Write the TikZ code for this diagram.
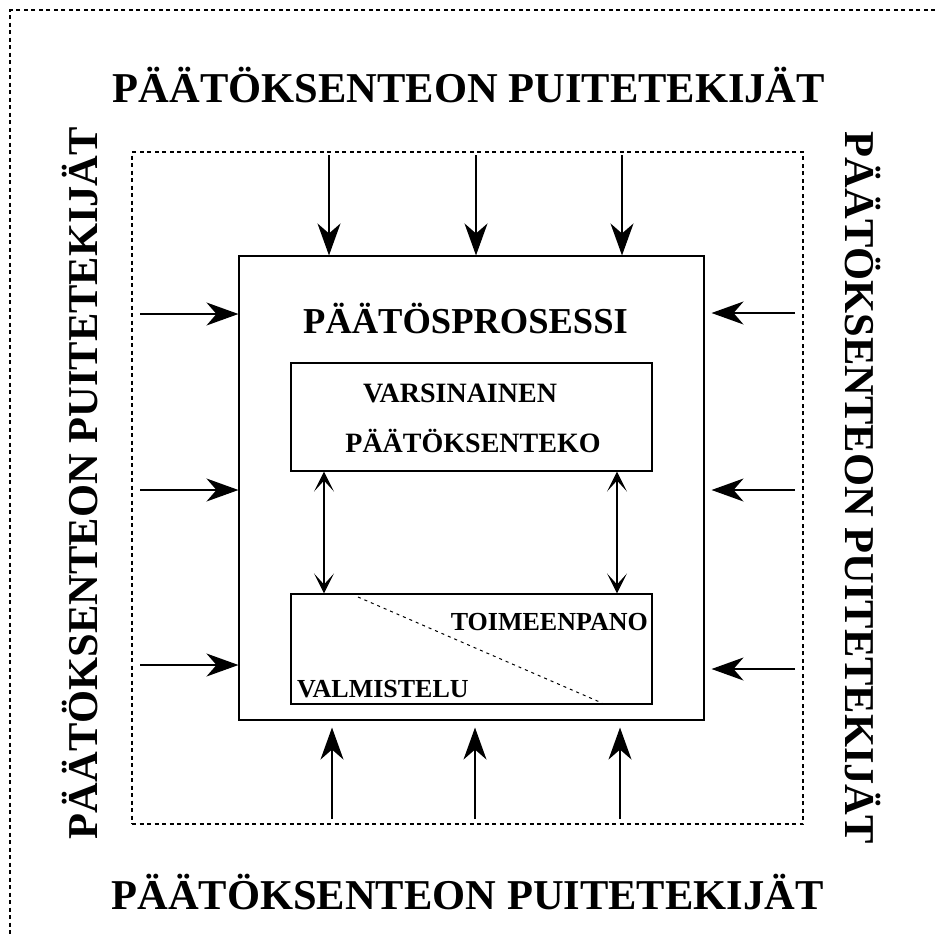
\documentclass[tikz,border=0pt]{standalone}
\usepackage{fontspec}
\setmainfont{Liberation Serif}
\usetikzlibrary{arrows.meta}
\begin{document}
\begin{tikzpicture}[x=1pt,y=-1pt,
  dotframe/.style={draw,line width=1.1pt,dash pattern=on 4pt off 3.5pt},
  procbox/.style={draw,line width=1.1pt,inner sep=0pt},
  bigarrow/.style={line width=1.4pt,-{Stealth[length=32pt,width=23pt,inset=10pt]}},
  smallarrow/.style={line width=1.1pt,{Stealth[length=20pt,width=20pt,inset=11pt]}-{Stealth[length=20pt,width=20pt,inset=11pt]}},
  bigtext/.style={font=\bfseries\fontsize{42.5}{50}\selectfont,inner sep=0pt,anchor=base},
  midtext/.style={font=\bfseries\fontsize{36.5}{44}\selectfont,inner sep=0pt,anchor=base},
  boxtext/.style={font=\bfseries\fontsize{28}{34}\selectfont,inner sep=0pt,anchor=base},
  subtext/.style={font=\bfseries\fontsize{26}{32}\selectfont,inner sep=0pt}]
\useasboundingbox (0,0) rectangle (935,937);

% outer dotted border (top and left edges)
\coordinate (otl) at (10,10);
\coordinate (otr) at (935,10);
\coordinate (obl) at (10,937);
\draw[dotframe] (otr) -- (otl) -- (obl);

% inner dotted frame
\node[dotframe,minimum width=671pt,minimum height=672pt,inner sep=0pt] (frame) at (467.5,488) {};

% decision process box and its two parts
\node[procbox,minimum width=465pt,minimum height=464pt] (main) at (471.5,488) {};
\node[procbox,minimum width=361pt,minimum height=108pt] (dec) at (471.5,417) {};
\node[procbox,minimum width=361pt,minimum height=110pt] (prep) at (471.5,649) {};

% diagonal split of the lower box
\coordinate (dgA) at (358,597);
\coordinate (dgB) at (602,703);
\draw[line width=1pt,dash pattern=on 3pt off 4pt] (dgA) -- (dgB);

% texts
\node[bigtext] (ttop) at (469,102) {PÄÄTÖKSENTEON PUITETEKIJÄT};
\node[bigtext] (tbot) at (467.5,909) {PÄÄTÖKSENTEON PUITETEKIJÄT};
\node[bigtext,rotate=90] (tleft) at (97,483) {PÄÄTÖKSENTEON PUITETEKIJÄT};
\node[bigtext,rotate=-90] (tright) at (845,488) {PÄÄTÖKSENTEON PUITETEKIJÄT};
\node[midtext] (tproc) at (465.5,333) {PÄÄTÖSPROSESSI};
\node[boxtext] (tdec1) at (460,402) {VARSINAINEN};
\node[boxtext] (tdec2) at (473,452) {PÄÄTÖKSENTEKO};
\node[subtext,anchor=base east] (timpl) at (648,630) {TOIMEENPANO};
\node[subtext,anchor=base west] (tprep) at (297,697) {VALMISTELU};

% influences from the frame onto the process
\foreach \i/\x in {1/329,2/476,3/622}{
  \coordinate (top\i) at (\x,155);
  \draw[bigarrow] (top\i) -- (top\i |- main.north);
}
\foreach \i/\x in {1/332,2/475,3/620}{
  \coordinate (bot\i) at (\x,819);
  \draw[bigarrow] (bot\i) -- ([yshift=-7pt]bot\i |- main.south);
}
\foreach \i/\y in {1/314,2/490,3/665}{
  \coordinate (lft\i) at (140,\y);
  \draw[bigarrow] (lft\i) -- (lft\i -| main.west);
}
\foreach \i/\y in {1/313,2/490,3/669}{
  \coordinate (rgt\i) at (795,\y);
  \draw[bigarrow] (rgt\i) -- ([xshift=7pt]rgt\i -| main.east);
}

% two-way links between decision making and preparation/implementation
\foreach \i/\x in {1/324,2/617}{
  \coordinate (lk\i) at (\x,471);
  \draw[smallarrow] (lk\i |- dec.south) -- (lk\i |- prep.north);
}
\end{tikzpicture}
\end{document}
